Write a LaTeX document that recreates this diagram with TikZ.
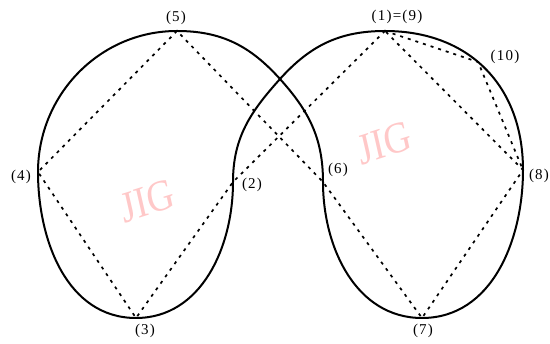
\documentclass[tikz,border=0pt]{standalone}
\usepackage{fontspec}
\newfontfamily\labfont[LetterSpace=8]{Liberation Serif}
\newfontfamily\wmfont{Liberation Serif}
\begin{document}
\begin{tikzpicture}[x=1pt,y=1pt,
  curve/.style={line width=2pt, line join=round},
  dline/.style={line width=1.7pt, dash pattern=on 3pt off 5pt},
  lab/.style={font=\labfont\fontsize{15}{17}\selectfont, inner sep=0pt},
  wm/.style={font=\wmfont\fontsize{44}{44}\selectfont, text={rgb,255:red,255;green,200;blue,200}, xscale=0.85, rotate=15, inner sep=0pt}]
\useasboundingbox (0,0) rectangle (550,344);
\fill[white] (0,0) rectangle (550,344);
% watermarks
\node[wm] (wm1) at (147,143) {JIG};
\node[wm] (wm2) at (384,201) {JIG};
% points
\coordinate (p1) at (385,313);
\coordinate (X)  at (280,265);
\coordinate (p2) at (233,162);
\coordinate (p3) at (136,26);
\coordinate (p4) at (38,172);
\coordinate (p5) at (177,313);
\coordinate (p6) at (323,162);
\coordinate (p7) at (422,26);
\coordinate (p8) at (523,174);
% curve
\draw[curve] (p1) to[out=180,in=48] (X) to[out=228,in=90] (p2)
  to[out=-90,in=0] (p3) to[out=180,in=-90] (p4) to[out=90,in=180] (p5)
  to[out=0,in=132] (X) to[out=-48,in=90] (p6) to[out=-90,in=180] (p7)
  to[out=0,in=-90] (p8) to[out=90,in=0,looseness=1.1] coordinate[pos=0.55] (p10) (p1);
% dashed polygon
\draw[dline] (p1) -- (p2) -- (p3) -- (p4) -- (p5) -- (p6) -- (p7) -- (p8) -- (p1);
\draw[dline] (p1) -- (p10) -- (p8);
% labels
\node[lab] (l5) at (176,326) {(5)};
\node[lab] (l1) at (397,327) {(1)=(9)};
\node[lab] (l10) at (505,287) {(10)};
\node[lab] (l4) at (21,167) {(4)};
\node[lab] (l2) at (252,159) {(2)};
\node[lab] (l6) at (338,174) {(6)};
\node[lab] (l8) at (539,168) {(8)};
\node[lab] (l3) at (145,13) {(3)};
\node[lab] (l7) at (423,13) {(7)};
\end{tikzpicture}
\end{document}
